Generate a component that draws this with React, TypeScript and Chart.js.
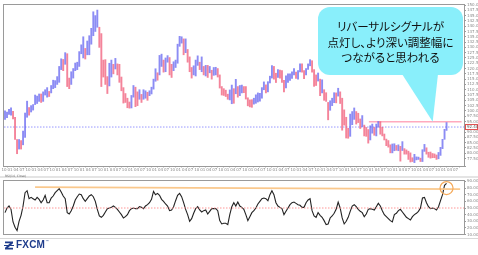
import React, { useEffect, useRef } from 'react';
import { Chart, registerables } from 'chart.js';

Chart.register(...registerables);

// ---------- data (USD/JPY monthly ranges, Oct 1994 – Feb 2013) ----------
const START_YEAR = 1994;
const START_MONTH = 10;
const X_MIN = 1994.75;
const X_MAX = 2013.85;

const MONTH_TICK_LABELS = ['01', '04', '07', '10'];

const PRICE_HIGH = [
  100.0, 99.5, 100.8,
  101.5, 99.8, 97.0, 86.5, 86.5, 86.0, 90.5, 99.0, 104.6, 101.6, 102.5, 103.0,
  107.5, 107.0, 108.0, 108.0, 109.0, 110.0, 111.0, 109.2, 112.0, 114.5, 114.3, 116.2,
  121.0, 124.6, 124.3, 127.5, 127.0, 115.5, 118.5, 120.0, 122.6, 123.0, 128.0, 131.2,
  135.0, 129.5, 133.0, 135.5, 139.0, 146.8, 145.0, 147.6, 139.5, 136.5, 124.0, 124.2,
  116.2, 122.5, 124.0, 122.0, 124.8, 122.2, 122.0, 116.0, 111.0, 108.2, 106.0, 104.2,
  107.3, 112.0, 111.2, 109.0, 110.0, 107.8, 110.0, 109.5, 108.8, 109.5, 111.2, 115.0,
  119.9, 118.0, 126.2, 126.8, 124.0, 125.0, 126.1, 125.2, 122.0, 123.2, 124.0, 131.5,
  135.2, 135.0, 134.0, 134.0, 129.0, 125.5, 120.5, 121.3, 124.0, 126.0, 123.0, 125.5,
  121.0, 121.5, 121.5, 121.0, 119.2, 120.5, 120.6, 120.0, 117.0, 111.5, 110.5, 109.8,
  107.9, 109.9, 112.2, 110.5, 114.9, 111.5, 112.0, 112.2, 111.5, 111.5, 106.2, 105.2,
  105.3, 106.0, 107.6, 108.5, 108.3, 111.0, 113.7, 112.3, 113.8, 116.4, 121.4, 121.0,
  117.8, 119.5, 119.3, 119.0, 114.4, 116.6, 117.5, 117.5, 118.4, 120.0, 118.3, 119.0,
  122.2, 122.2, 119.0, 120.0, 122.2, 124.2, 123.7, 119.5, 117.0, 117.9, 115.0, 114.7,
  110.0, 108.6, 104.0, 104.8, 106.0, 108.6, 108.5, 110.7, 109.0, 106.0, 100.5, 97.0,
  91.8, 98.5, 99.7, 101.4, 99.7, 98.9, 96.2, 97.8, 93.3, 92.2, 91.2, 93.0,
  93.8, 92.2, 93.8, 95.0, 94.9, 92.3, 89.1, 86.7, 86.0, 84.0, 84.4, 84.5,
  83.7, 84.0, 83.3, 85.5, 82.2, 81.6, 81.0, 80.2, 77.9, 79.5, 78.3, 78.2,
  77.7, 81.7, 84.2, 82.6, 80.5, 80.6, 79.9, 79.7, 79.2, 80.4, 82.8, 86.6,
  91.3, 94.5,
];

const PRICE_LOW = [
  96.0, 96.8, 98.3,
  98.0, 96.2, 86.5, 79.8, 82.0, 82.0, 84.0, 87.5, 97.0, 98.0, 99.5, 100.4,
  103.0, 103.5, 104.5, 104.0, 104.5, 107.5, 106.5, 106.8, 108.5, 110.5, 111.0, 112.5,
  113.5, 119.5, 119.0, 122.0, 111.5, 110.5, 112.5, 115.5, 119.0, 119.5, 121.0, 127.0,
  125.0, 124.5, 126.5, 126.5, 131.5, 135.5, 137.5, 139.5, 130.0, 111.5, 116.0, 112.5,
  108.2, 111.8, 116.0, 117.5, 119.8, 117.0, 113.5, 109.5, 103.7, 104.0, 101.5, 101.3,
  101.4, 106.5, 102.0, 102.5, 105.5, 104.0, 105.5, 106.0, 105.0, 107.2, 108.0, 110.3,
  114.0, 114.5, 117.0, 121.0, 118.3, 118.5, 123.0, 117.0, 115.8, 119.0, 120.5, 122.5,
  130.5, 132.0, 126.5, 127.5, 123.0, 118.5, 115.5, 117.0, 116.5, 121.5, 119.5, 118.5,
  117.0, 116.5, 115.8, 118.0, 115.0, 116.8, 117.0, 116.0, 110.8, 107.5, 107.3, 106.8,
  105.5, 105.2, 103.4, 103.6, 108.1, 106.5, 107.2, 108.5, 108.6, 105.6, 102.4, 101.9,
  101.7, 103.2, 103.6, 104.2, 104.6, 106.0, 110.0, 108.5, 109.0, 113.2, 115.5, 115.0,
  113.4, 115.8, 115.5, 113.5, 109.0, 110.9, 113.5, 114.4, 115.4, 117.0, 115.4, 115.0,
  118.4, 118.3, 115.2, 117.0, 119.6, 121.3, 118.3, 111.6, 112.0, 114.1, 107.2, 108.5,
  105.0, 104.5, 95.8, 100.3, 102.5, 103.9, 103.8, 107.0, 103.5, 90.9, 93.3, 87.2,
  87.1, 88.0, 93.5, 96.0, 93.8, 94.5, 91.7, 92.6, 88.2, 88.0, 84.8, 86.3,
  89.5, 88.5, 88.2, 92.3, 89.0, 88.2, 86.3, 83.6, 82.9, 80.2, 80.2, 81.2,
  81.4, 81.2, 76.3, 81.3, 79.6, 79.6, 77.1, 75.9, 76.1, 75.6, 76.9, 77.1,
  76.1, 76.1, 80.9, 79.6, 78.1, 77.7, 77.9, 77.9, 77.1, 77.4, 79.0, 82.2,
  86.6, 90.8,
];

const RSI_VALUES = [
  43, 50, 53,
  48, 29, 21, 16, 30, 39, 53, 73, 76, 64, 66, 64,
  62, 66, 63, 58, 62, 69, 58, 58, 65, 68, 73, 76,
  79, 74, 68, 64, 43, 41, 46, 53, 62, 67, 71, 70,
  64, 60, 64, 68, 70, 67, 60, 48, 38, 36, 39, 44,
  49, 50, 51, 53, 51, 48, 44, 40, 35, 37, 40, 46,
  49, 50, 49, 49, 52, 51, 49, 53, 55, 58, 63, 75,
  70, 72, 69, 63, 60, 56, 53, 46, 47, 52, 61, 69,
  72, 67, 58, 48, 40, 30, 34, 42, 49, 52, 47, 44,
  46, 47, 41, 45, 49, 49, 49, 46, 31, 26, 27, 27,
  25, 40, 52, 58, 53, 59, 53, 51, 48, 40, 31, 37,
  43, 46, 50, 56, 60, 64, 65, 64, 61, 70, 76, 70,
  58, 53, 51, 49, 40, 45, 50, 55, 58, 59, 57, 55,
  54, 51, 51, 58, 62, 64, 46, 38, 36, 43, 39, 36,
  31, 25, 26, 35, 38, 42, 48, 59, 50, 35, 26, 30,
  36, 45, 53, 55, 52, 48, 45, 43, 37, 41, 48, 49,
  48, 47, 52, 57, 53, 46, 40, 37, 34, 31, 29, 40,
  42, 46, 48, 44, 40, 36, 34, 32, 37, 40, 42, 45,
  50, 65, 66, 58, 52, 49, 50, 49, 47, 52, 61, 70,
  84, 87,
];

const PRICE_MIN = 74;
const PRICE_MAX = 150;
const PRICE_STEP = 2.5;
const RSI_MIN = 10;
const RSI_MAX = 90;
const RSI_STEP = 10;
const RSI_MID = 50;
const LAST_CLOSE = 92.4;
const RESISTANCE = { from: 2009.9, to: 2013.75, level: 94.9 };
const RSI_TREND = { from: 1996.04, to: 2013.69, start: 81.5, end: 78.3 };
const RSI_CIRCLE_LEVEL = 80;
const CALLOUT_TIP = { t: 2012.55, price: 94.9 };
const CALLOUT_LINES = ['リバーサルシグナルが', '点灯し、より深い調整幅に', 'つながると思われる'];

// ---------- styles ----------
const UP = 'rgba(95,95,240,0.72)';
const DOWN = 'rgba(240,85,115,0.72)';
const BUBBLE_COLOR = 'rgb(137,239,251)';
const BUBBLE = { left: 318, top: 7, right: 463, bottom: 75, radius: 12, baseL: 402, baseR: 438 };
const TICK_FONT = { size: 4, family: 'DejaVu Sans' };
const W = 478;

const TIMES = PRICE_HIGH.map((_, i) => START_YEAR + (START_MONTH - 1 + 0.5) / 12 + i / 12);
const BAR_COLORS = PRICE_HIGH.map((h, i) => {
  const mid = (h + PRICE_LOW[i]) / 2;
  const prev = i > 0 ? (PRICE_HIGH[i - 1] + PRICE_LOW[i - 1]) / 2 : mid;
  return mid >= prev ? UP : DOWN;
});

const monthLabel = (v: number) => {
  const f = (v - Math.floor(v)) * 12;
  const q = Math.round(f);
  if (Math.abs(f - q) > 0.01 || q % 3 !== 0) return '';
  return MONTH_TICK_LABELS[q / 3];
};
const yearLabel = (v: number) => (Math.abs(v - Math.round(v)) < 0.001 ? String(Math.round(v)) : '');

const framePlugin = {
  id: 'frame',
  beforeDraw(chart: any) {
    const { ctx, width, height } = chart;
    ctx.save();
    ctx.fillStyle = '#fff';
    ctx.fillRect(0, 0, width, height);
    ctx.restore();
  },
  afterDatasetsDraw(chart: any) {
    const { ctx, chartArea: a } = chart;
    ctx.save();
    ctx.strokeStyle = '#9a9a9a';
    ctx.lineWidth = 1;
    ctx.strokeRect(Math.round(a.left) - 0.5, Math.round(a.top) - 0.5, Math.round(a.right - a.left) + 1, Math.round(a.bottom - a.top) + 1);
    ctx.restore();
  },
};

const mainOverlay = {
  id: 'mainOverlay',
  afterDraw(chart: any) {
    const { ctx, chartArea: a, scales } = chart;
    ctx.save();
    const yC = scales.y.getPixelForValue(LAST_CLOSE);
    ctx.fillStyle = '#fff';
    ctx.fillRect(a.right + 1, yC - 2.5, 12, 5);
    ctx.strokeStyle = '#e05050';
    ctx.lineWidth = 1;
    ctx.strokeRect(a.right + 1.5, yC - 2.5, 12, 5);
    ctx.fillStyle = '#555';
    ctx.font = '4px DejaVu Sans';
    ctx.textBaseline = 'middle';
    ctx.fillText(LAST_CLOSE.toFixed(2), a.right + 3, yC);
    const tipX = scales.x.getPixelForValue(CALLOUT_TIP.t);
    const tipY = scales.y.getPixelForValue(CALLOUT_TIP.price);
    ctx.fillStyle = BUBBLE_COLOR;
    ctx.beginPath();
    ctx.roundRect(BUBBLE.left, BUBBLE.top, BUBBLE.right - BUBBLE.left, BUBBLE.bottom - BUBBLE.top, BUBBLE.radius);
    ctx.fill();
    ctx.beginPath();
    ctx.moveTo(BUBBLE.baseL, BUBBLE.bottom - 1);
    ctx.lineTo(tipX, tipY);
    ctx.lineTo(BUBBLE.baseR, BUBBLE.bottom - 1);
    ctx.closePath();
    ctx.fill();
    ctx.restore();
  },
};

const lowerOverlay = {
  id: 'lowerOverlay',
  afterDraw(chart: any) {
    const { ctx, scales } = chart;
    const x = scales.x.getPixelForValue(TIMES[TIMES.length - 1]);
    const y = scales.y.getPixelForValue(RSI_CIRCLE_LEVEL);
    ctx.save();
    ctx.strokeStyle = 'rgb(245,170,90)';
    ctx.lineWidth = 1.2;
    ctx.beginPath();
    ctx.arc(x, y, 6.5, 0, Math.PI * 2);
    ctx.stroke();
    ctx.restore();
  },
};

const rightAxis = (min: number, max: number, step: number, fmt: (v: number) => string) => ({
  type: 'linear',
  position: 'right',
  min,
  max,
  afterFit: (s: any) => {
    s.width = 14;
  },
  border: { display: true, color: '#9a9a9a' },
  grid: { drawOnChartArea: false, drawTicks: true, tickLength: 2, color: '#9a9a9a' },
  ticks: {
    stepSize: step,
    autoSkip: false,
    font: TICK_FONT,
    color: '#888',
    padding: 1,
    callback: (v: number) => (Math.abs(v / step - Math.round(v / step)) < 0.001 ? fmt(v) : ''),
  },
});

export default function App() {
  const mainRef = useRef<HTMLCanvasElement>(null);
  const lowerRef = useRef<HTMLCanvasElement>(null);

  useEffect(() => {
    const main = new Chart(mainRef.current as HTMLCanvasElement, {
      type: 'bar',
      data: {
        datasets: [
          {
            type: 'line',
            data: [
              { x: X_MIN, y: LAST_CLOSE },
              { x: X_MAX, y: LAST_CLOSE },
            ],
            borderColor: 'rgba(140,140,255,0.9)',
            borderDash: [1.5, 1.5],
            borderWidth: 1,
            pointRadius: 0,
            order: 3,
          } as any,
          {
            type: 'line',
            data: [
              { x: RESISTANCE.from, y: RESISTANCE.level },
              { x: RESISTANCE.to, y: RESISTANCE.level },
            ],
            borderColor: 'rgb(255,170,190)',
            borderWidth: 1.5,
            pointRadius: 0,
            order: 2,
          } as any,
          {
            type: 'bar',
            data: TIMES.map((t, i) => ({ x: t, y: [PRICE_LOW[i], PRICE_HIGH[i]] })),
            backgroundColor: BAR_COLORS,
            borderWidth: 0,
            barThickness: 1.25,
            order: 1,
          } as any,
        ],
      },
      options: {
        animation: false,
        responsive: false,
        events: [],
        layout: { padding: { left: 4, top: 5, right: 0, bottom: 0 } },
        plugins: { legend: { display: false }, tooltip: { enabled: false } },
        scales: {
          x: {
            type: 'linear',
            position: 'bottom',
            weight: 1,
            min: X_MIN,
            max: X_MAX,
            offset: false,
            afterFit: (s: any) => {
              s.height = 5;
            },
            border: { display: false },
            grid: { drawOnChartArea: false, drawTicks: true, tickLength: 1.5, color: '#aaa' },
            ticks: { stepSize: 0.25, autoSkip: false, maxRotation: 0, font: TICK_FONT, color: '#888', padding: 0, callback: (v: any) => monthLabel(v) },
          },
          x2: {
            type: 'linear',
            position: 'bottom',
            weight: 2,
            min: X_MIN,
            max: X_MAX,
            offset: false,
            afterFit: (s: any) => {
              s.height = 5;
            },
            border: { display: false },
            grid: { display: false },
            ticks: { stepSize: 1, autoSkip: false, maxRotation: 0, font: TICK_FONT, color: '#888', padding: 0, callback: (v: any) => yearLabel(v) },
          },
          y: rightAxis(PRICE_MIN, PRICE_MAX, PRICE_STEP, (v) => v.toFixed(2)) as any,
        },
      } as any,
      plugins: [framePlugin, mainOverlay],
    });

    const lower = new Chart(lowerRef.current as HTMLCanvasElement, {
      type: 'line',
      data: {
        datasets: [
          {
            data: [
              { x: X_MIN, y: RSI_MID },
              { x: X_MAX, y: RSI_MID },
            ],
            borderColor: 'rgb(255,150,150)',
            borderDash: [1.5, 1.5],
            borderWidth: 1,
            pointRadius: 0,
          },
          {
            data: [
              { x: RSI_TREND.from, y: RSI_TREND.start },
              { x: RSI_TREND.to, y: RSI_TREND.end },
            ],
            borderColor: 'rgb(250,200,140)',
            borderWidth: 1.8,
            pointRadius: 0,
          },
          {
            data: TIMES.map((t, i) => ({ x: t, y: RSI_VALUES[i] })),
            borderColor: '#222',
            borderWidth: 1.1,
            pointRadius: 0,
            tension: 0,
          },
        ],
      },
      options: {
        animation: false,
        responsive: false,
        events: [],
        layout: { padding: { left: 4, top: 1, right: 0, bottom: 2 } },
        plugins: { legend: { display: false }, tooltip: { enabled: false } },
        scales: {
          x: { type: 'linear', min: X_MIN, max: X_MAX, display: false },
          y: rightAxis(RSI_MIN, RSI_MAX, RSI_STEP, (v) => v.toFixed(2)) as any,
        },
      } as any,
      plugins: [framePlugin, lowerOverlay],
    });

    return () => {
      main.destroy();
      lower.destroy();
    };
  }, []);

  const tiny: React.CSSProperties = { position: 'absolute', fontSize: '4px', lineHeight: '4px', color: '#666', fontFamily: 'DejaVu Sans', whiteSpace: 'nowrap' };

  return (
    <div style={{ position: 'fixed', left: 0, top: 0, width: W, height: 255, background: '#fff', overflow: 'hidden' }}>
      <div style={{ position: 'absolute', left: 0, top: 0, width: W, height: 5, background: '#f0f0f0' }} />
      <div style={{ ...tiny, left: 5, top: 0.5 }}>USD/JPY - Weekly (FXCM)</div>
      <canvas ref={mainRef} width={W} height={176} style={{ position: 'absolute', left: 0, top: 0, width: W, height: 176 }} />
      <div style={{ position: 'absolute', left: 0, top: 176, width: W, height: 2, background: '#e4e4e4' }} />
      <div style={{ ...tiny, left: 5, top: 175, fontSize: '3px', lineHeight: '3px' }}>RSI(14, Close)</div>
      <canvas ref={lowerRef} width={W} height={60} style={{ position: 'absolute', left: 0, top: 178, width: W, height: 60 }} />
      <div style={{ position: 'absolute', left: 0, top: 238, width: W, height: 1, background: '#d8d8d8' }} />
      <div
        style={{
          position: 'absolute',
          left: BUBBLE.left,
          top: 19,
          width: BUBBLE.right - BUBBLE.left,
          textAlign: 'center',
          fontFamily: '"Noto Sans CJK JP", sans-serif',
          fontSize: '11.5px',
          lineHeight: '15.5px',
          color: '#111',
          fontFeatureSettings: '"palt"',
          whiteSpace: 'nowrap',
        }}
      >
        {CALLOUT_LINES.map((l) => (
          <div key={l}>{l}</div>
        ))}
      </div>
      <div style={{ position: 'absolute', left: 4, top: 240, display: 'flex', alignItems: 'center', height: 10 }}>
        <svg width="10" height="9" viewBox="0 0 10 9" style={{ display: 'block' }}>
          <path d="M1 0.5 H9 V2.2 L4 6.8 H9 V8.5 H1 V6.8 L6 2.2 H1 Z" fill="#1e3c8c" />
          <rect x="0" y="4" width="10" height="1" fill="#1e3c8c" />
        </svg>
        <span
          style={{
            marginLeft: 2,
            fontFamily: '"Liberation Sans", Arial, sans-serif',
            fontWeight: 700,
            fontSize: '10px',
            lineHeight: '10px',
            color: '#1e3c8c',
            letterSpacing: '0.2px',
          }}
        >
          FXCM
        </span>
        <span style={{ fontSize: '4px', lineHeight: '4px', color: '#1e3c8c', alignSelf: 'flex-start', fontFamily: 'DejaVu Sans' }}>™</span>
      </div>
    </div>
  );
}
